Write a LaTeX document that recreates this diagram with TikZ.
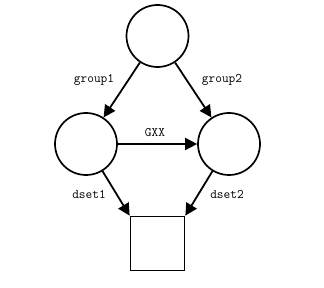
\documentclass[tikz,border=0pt]{standalone}
\usetikzlibrary{arrows.meta}
\begin{document}
\begin{tikzpicture}[x=1pt,y=1pt,
  circ/.style={draw, circle, line width=1.7pt, minimum size=62pt, inner sep=0pt},
  sq/.style={draw, rectangle, line width=1.7pt, minimum size=54pt, inner sep=0pt},
  edge/.style={line width=1.8pt, -{Triangle[length=12pt,width=12pt]}},
  lbl/.style={font=\ttfamily\fontsize{13}{15}\selectfont, inner sep=0pt}]
\useasboundingbox (0,0) rectangle (324,288);
\node[circ] (top) at (157.5,252) {};
\node[circ] (left) at (86,144) {};
\node[circ] (right) at (229,144) {};
\node[sq] (box) at (157.5,44.5) {};
\draw[edge] (top) -- (left);
\draw[edge] (top) -- (right);
\draw[edge] (left) -- (right);
\draw[edge] (left) -- (box.north west);
\draw[edge] (right) -- (box.north east);
\node[lbl] (l1) at (94,208) {group1};
\node[lbl] (l2) at (222,208) {group2};
\node[lbl] (l3) at (155,155) {GXX};
\node[lbl] (l4) at (89,94) {dset1};
\node[lbl] (l5) at (227,94) {dset2};
\end{tikzpicture}
\end{document}
